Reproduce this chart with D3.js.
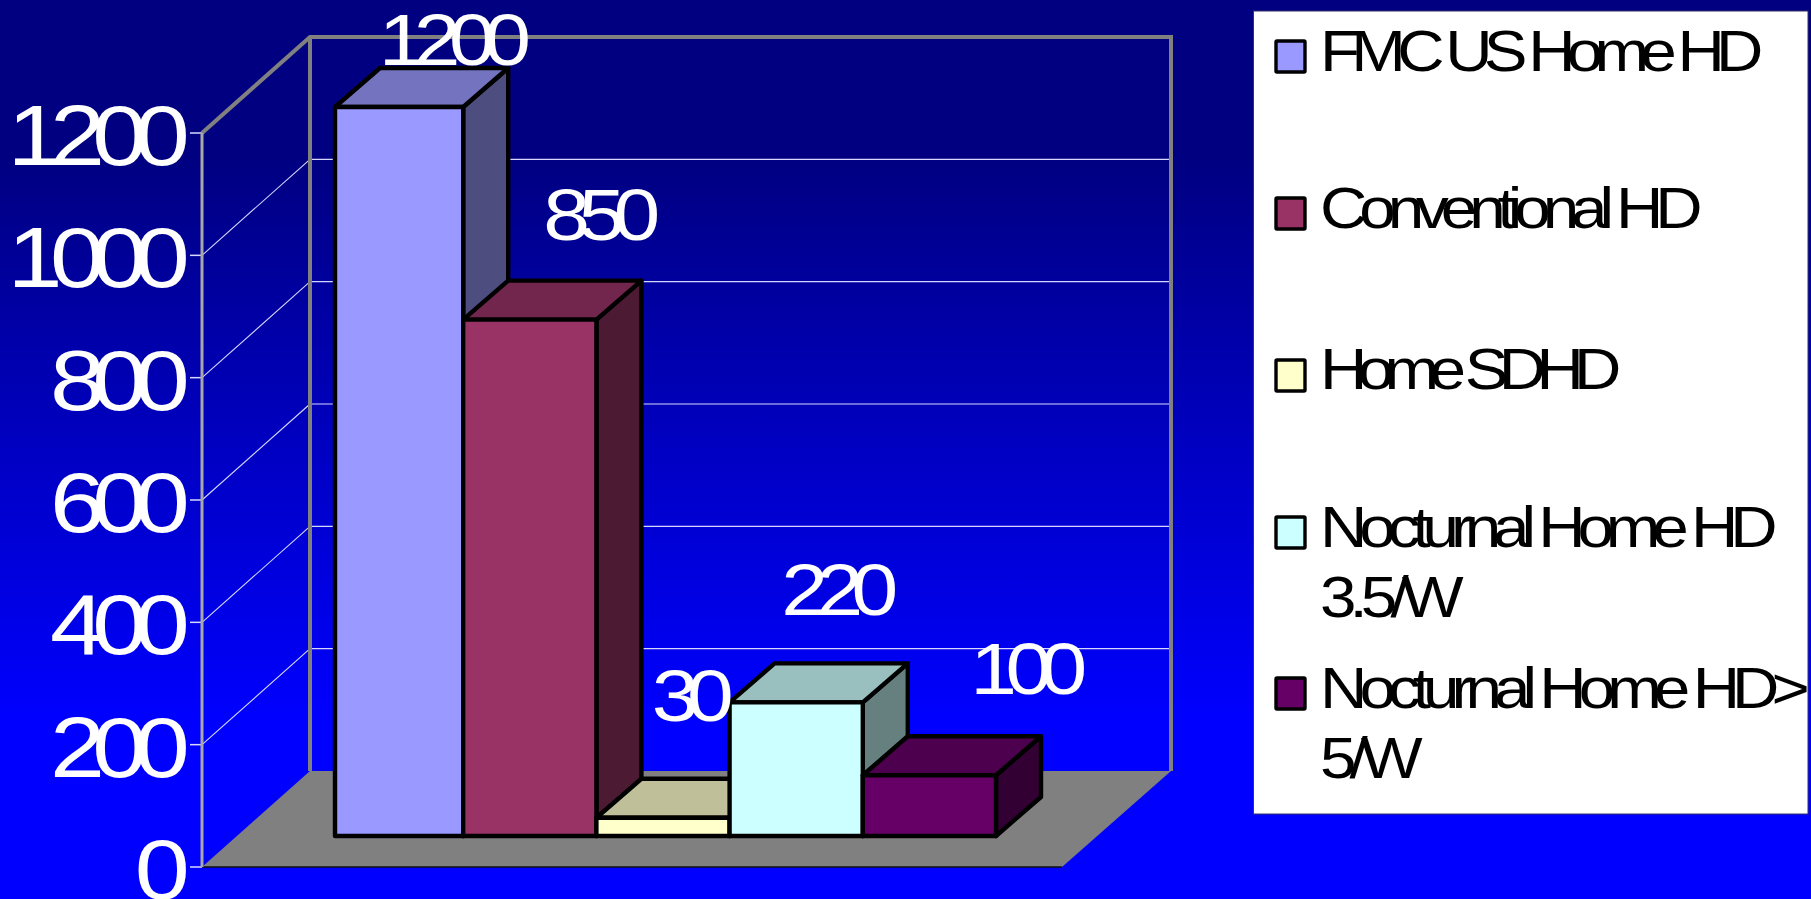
<!DOCTYPE html>
<html><head><meta charset="utf-8">
<script src="https://cdnjs.cloudflare.com/ajax/libs/d3/7.8.5/d3.min.js"></script>
<style>html,body{margin:0;padding:0;background:#0000ff;overflow:hidden}svg{display:block}text{font-family:"Liberation Sans",Arial,sans-serif}</style>
</head><body><svg id="c" width="1811" height="899"></svg>
<script>
const categories = ["FMC US Home HD","Conventional HD","Home SDHD","Nocturnal Home HD 3.5/W","Nocturnal Home HD> 5/W"];
const values = [1200,850,30,220,100];
const colors = ["#9999ff","#993366","#ffffcc","#ccffff","#660066"];
const yTicks = [0,200,400,600,800,1000,1200];
const legendLines = [["FMC US Home HD"],["Conventional HD"],["Home SDHD"],["Nocturnal Home HD","3.5/W"],["Nocturnal Home HD>","5/W"]];
const legendSpacing = [[-7.6],[-7],[-8.4],[-7,-6],[-6.9,-6]];

const W=1811,H=899, svg=d3.select("#c");
const defs=svg.append("defs");
const g=defs.append("linearGradient").attr("id","bg").attr("x1",0).attr("y1",0).attr("x2",0).attr("y2",1);
g.append("stop").attr("offset",0).attr("stop-color","#000080");
g.append("stop").attr("offset",0.17).attr("stop-color","#000080");
g.append("stop").attr("offset",0.8).attr("stop-color","#0000ff");
svg.append("rect").attr("width",W).attr("height",H).attr("fill","url(#bg)");

const yFront=d3.scaleLinear().domain([0,1200]).range([867,133]);
const wallDx=108, wallDy=-96, backRight=1171, frontRight=1062;
const yBack=v=>yFront(v)+wallDy;
const xLeft=202, xBack=xLeft+wallDx;

// floor
svg.append("path").attr("d",`M${xLeft},${yFront(0)}L${xBack},${yBack(0)}L${backRight},${yBack(0)}L${frontRight},${yFront(0)}Z`).attr("fill","#808080");
svg.append("line").attr("x1",xLeft).attr("x2",frontRight).attr("y1",yFront(0)).attr("y2",yFront(0)).attr("stroke","#111").attr("stroke-width",1.5);

// grid
const inner=yTicks.filter(v=>v>0&&v<1200);
svg.selectAll(".gb").data(inner).join("line").attr("x1",xBack).attr("x2",backRight).attr("y1",yBack).attr("y2",yBack).attr("stroke","#d8d8ff").attr("stroke-width",1.2);
svg.selectAll(".gs").data(inner).join("line").attr("x1",xLeft).attr("x2",xBack).attr("y1",yFront).attr("y2",yBack).attr("stroke","#d8d8ff").attr("stroke-width",1.1);
svg.selectAll(".tk").data(yTicks).join("line").attr("x1",190).attr("x2",xLeft).attr("y1",yFront).attr("y2",yFront).attr("stroke","#d8d8ff").attr("stroke-width",1.5);

// frame
svg.append("path").attr("d",`M${xLeft},${yFront(1200)}L${xBack},${yBack(1200)}L${backRight},${yBack(1200)}L${backRight},${yBack(0)}M${xBack},${yBack(1200)}L${xBack},${yBack(0)}`).attr("fill","none").attr("stroke","#808080").attr("stroke-width",4);
svg.append("line").attr("x1",xLeft).attr("x2",xLeft).attr("y1",yFront(0)).attr("y2",yFront(1200)).attr("stroke","#a8a8a8").attr("stroke-width",3);

// bars
const x=d3.scaleBand().domain(categories).range([330,996]).padding(0);
const plotLeft=335;
const yBar=d3.scaleLinear().domain([0,1200]).range([836,107]);
const dx=45, dy=-39;
const shade=(c,k)=>{const r=d3.rgb(c);return d3.rgb(r.r*k,r.g*k,r.b*k).formatHex();};
const bars=svg.selectAll(".bar").data(values).join("g").attr("class","bar").attr("stroke","#000").attr("stroke-width",4.4).attr("stroke-linejoin","round");
bars.each(function(v,i){
  const s=d3.select(this), x0=Math.max(x(categories[i]),plotLeft), x1=x(categories[i])+x.bandwidth(), t=yBar(v), b=yBar(0);
  s.append("path").attr("d",`M${x1},${t}L${x1+dx},${t+dy}L${x1+dx},${b+dy}L${x1},${b}Z`).attr("fill",shade(colors[i],0.5));
  s.append("path").attr("d",`M${x0},${t}L${x0+dx},${t+dy}L${x1+dx},${t+dy}L${x1},${t}Z`).attr("fill",shade(colors[i],0.75));
  s.append("rect").attr("x",x0).attr("y",t).attr("width",x1-x0).attr("height",b-t).attr("fill",colors[i]);
});

function stretched(sel,size,ls,anchor,fill){
  sel.attr("font-size",size).attr("letter-spacing",ls).attr("text-anchor",anchor).attr("fill",fill);
}
// tick labels
const sx=1.15;
svg.selectAll(".tl").data(yTicks).join("text").attr("class","tl").text(d=>d)
 .attr("transform",d=>`translate(177,${yFront(d)+32}) scale(${sx},1)`).call(stretched,86,-11,"end","#fff");

// value labels
const labelPos=[[449,65],[596,240],[687,721],[834,615],[1023,694]];
svg.selectAll(".vl").data(values).join("text").attr("class","vl").text(d=>d)
 .attr("transform",(d,i)=>`translate(${labelPos[i][0]},${labelPos[i][1]}) scale(${sx},1)`).call(stretched,73,-10,"middle","#fff");

// legend
svg.append("rect").attr("x",1253.5).attr("y",11).attr("width",554.5).attr("height",803).attr("fill","#fff").attr("stroke","#333366").attr("stroke-width",1);
const swatchY=[40,197,359,516,677], baseY=[71,228,389,547,708], lineGap=70;
const lg=svg.selectAll(".lg").data(legendLines).join("g").attr("class","lg");
lg.append("rect").attr("x",1276).attr("y",(d,i)=>swatchY[i]+1).attr("width",29).attr("height",31).attr("rx",1).attr("fill",(d,i)=>colors[i]).attr("stroke","#000").attr("stroke-width",3.4);
lg.each(function(lines,i){
  d3.select(this).selectAll("text").data(lines).join("text").text(d=>d)
   .attr("transform",(d,j)=>`translate(1320,${baseY[i]+j*lineGap}) scale(${sx},1)`)
   .attr("font-size",57).attr("fill","#000").attr("letter-spacing",(d,j)=>legendSpacing[i][j]);
});
</script></body></html>
